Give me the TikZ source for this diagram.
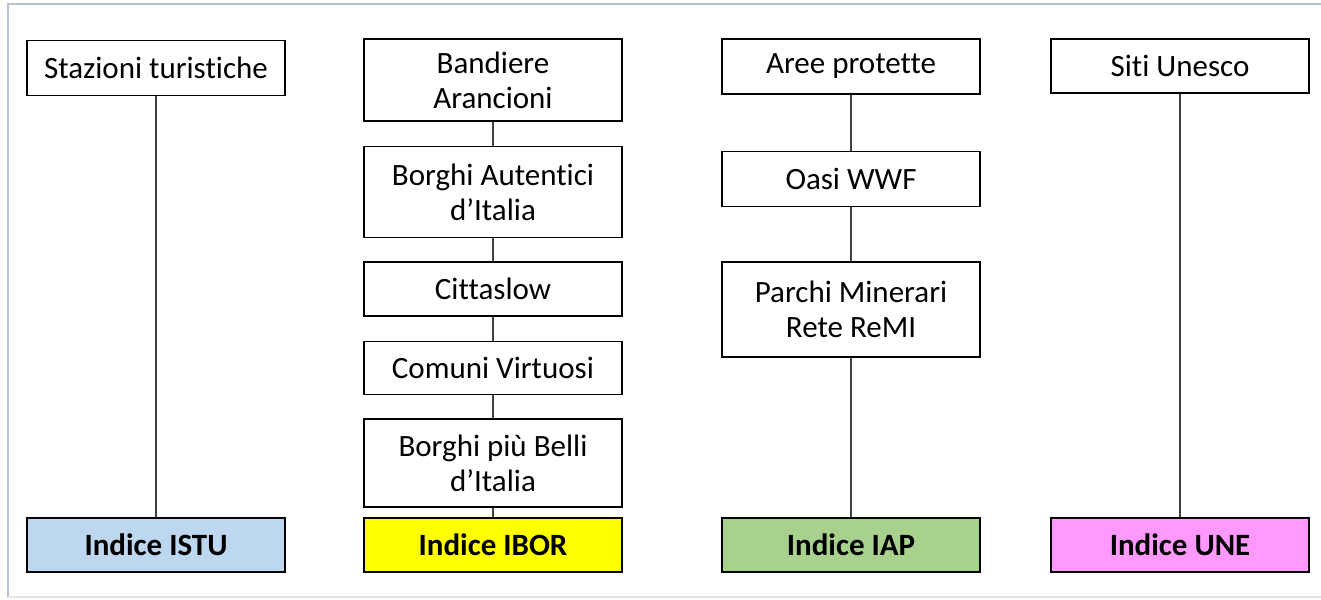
\documentclass[tikz,border=0pt]{standalone}
\usepackage{fontspec}
\setmainfont{Carlito}[Ligatures=NoCommon]
\usepackage{tikz}
\usetikzlibrary{positioning}
\usepackage{xcolor}
\definecolor{ixblue}{HTML}{BDD7EE}
\definecolor{ixyellow}{HTML}{FFFF00}
\definecolor{ixgreen}{HTML}{A9D18E}
\definecolor{ixpink}{HTML}{FF99FF}
\definecolor{frameblue}{HTML}{B7C2D5}
\definecolor{framegray}{HTML}{E3E3E3}
\tikzset{
    entry/.style={
        draw=black,line width=.75pt,fill=white,
        align=center,minimum width=129pt,inner sep=1pt,
        font=\fontsize{15.5}{17.5}\selectfont
    },
    index/.style={
        entry,fill=#1,minimum height=27pt,
        font=\fontsize{15.5}{17.5}\selectfont\bfseries
    },
    index/.default=ixblue,
    conn/.style={
        line width=.6pt,draw=black!75
    }
}
\begin{document}
\begin{tikzpicture}[x=0.5pt,y=-0.5pt]
\useasboundingbox (0,0) rectangle (1321,599);

% frame
\draw[frameblue,line width=1pt] (8,597) -- (8,4) -- (1325,4);
\draw[framegray,line width=1pt] (8,597) -- (1325,597);

% first column
\node[entry,minimum height=27.5pt] (st) at (156,68) {Stazioni turistiche};
\node[index=ixblue] (istu) at (156,545) {Indice ISTU};

% second column
\node[entry,minimum height=41pt] (ba) at (493,80) {Bandiere\\Arancioni};
\node[entry,minimum height=45.5pt,below=12pt of ba] (bai) {Borghi Autentici\\d’Italia};
\node[entry,minimum height=27pt,below=11.5pt of bai] (cs) {Cittaslow};
\node[entry,minimum height=26.5pt,below=12pt of cs] (cv) {Comuni Virtuosi};
\node[entry,minimum height=44pt,below=11.5pt of cv] (bpb) {Borghi più Belli\\d’Italia};
\node[index=ixyellow] (ibor) at (493,545) {Indice IBOR};

% third column
\node[entry,minimum height=27.5pt] (ap) at (851,66.5) {Aree protette};
\node[entry,minimum height=27.5pt,below=28pt of ap] (oasi) {Oasi WWF};
\node[entry,minimum height=47.5pt,below=27pt of oasi] (remi) {Parchi Minerari\\Rete ReMI};
\node[index=ixgreen] (iap) at (851,545) {Indice IAP};

% fourth column
\node[entry,minimum height=27pt] (unesco) at (1180,66) {Siti Unesco};
\node[index=ixpink] (une) at (1180,545) {Indice UNE};

\draw[conn](st)--(istu);
\draw[conn](ba)--(bai);
\draw[conn](bai)--(cs);
\draw[conn](cs)--(cv);
\draw[conn](cv)--(bpb);
\draw[conn](bpb)--(ibor);
\draw[conn](ap)--(oasi);
\draw[conn](oasi)--(remi);
\draw[conn](remi)--(iap);
\draw[conn](unesco)--(une);

\end{tikzpicture}
\end{document}
